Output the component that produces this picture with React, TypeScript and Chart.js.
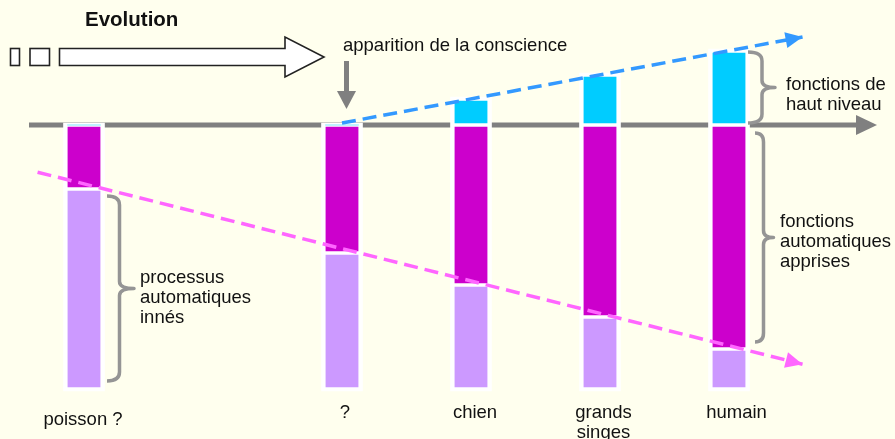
import { useEffect, useRef } from "react";
import { Chart, registerables } from "chart.js";

Chart.register(...registerables);

// ---------- data ----------
const categories = ["poisson ?", "?", "chien", "grands\nsinges", "humain"];
const positions = [0, 2, 3, 4, 5];
const highLevel = [0, 0, 3.25, 6.25, 9.25]; // fonctions de haut niveau
const learned = [8, 16, 20, 24, 28]; // fonctions automatiques apprises
const innate = [25, 17, 13, 9, 5]; // processus automatiques innés
const consciousTrendX = [2, 5.57];
const consciousTrendY = [0.25, 11];
const automaticTrendX = [-0.36, 5.57];
const automaticTrendY = [-5.9, -29.9];

// ---------- styles ----------
const BG = "#FFFFEE";
const CYAN = "#00CCFF";
const MAGENTA = "#CC00CC";
const LAVENDER = "#CC99FF";
const GRAY = "#808080";
const BRACE = "#959595";
const BLUE = "#3399FF";
const PINK = "#FF66FF";
const TEXT = "#111111";
const FONT = '"Liberation Sans", Arial, Helvetica, sans-serif';

function brace(ctx: CanvasRenderingContext2D, xL: number, xs: number, xt: number, y0: number, y1: number) {
  const r = 9;
  const rm = 7;
  const ym = (y0 + y1) / 2;
  ctx.beginPath();
  ctx.moveTo(xL, y0);
  ctx.quadraticCurveTo(xs, y0, xs, y0 + r);
  ctx.lineTo(xs, ym - rm);
  ctx.quadraticCurveTo(xs, ym, xt, ym);
  ctx.quadraticCurveTo(xs, ym, xs, ym + rm);
  ctx.lineTo(xs, y1 - r);
  ctx.quadraticCurveTo(xs, y1, xL, y1);
  ctx.stroke();
}

function arrowHead(ctx: CanvasRenderingContext2D, x1: number, y1: number, x2: number, y2: number, len: number, half: number, color: string) {
  const a = Math.atan2(y2 - y1, x2 - x1);
  const bx = x2 - len * Math.cos(a);
  const by = y2 - len * Math.sin(a);
  const nx = -Math.sin(a);
  const ny = Math.cos(a);
  ctx.fillStyle = color;
  ctx.beginPath();
  ctx.moveTo(x2, y2);
  ctx.lineTo(bx + nx * half, by + ny * half);
  ctx.lineTo(bx - nx * half, by - ny * half);
  ctx.closePath();
  ctx.fill();
}

const decor = {
  id: "decor",
  beforeDatasetsDraw(chart: any) {
    const ctx: CanvasRenderingContext2D = chart.ctx;
    const y = chart.scales.y;
    const y0 = y.getPixelForValue(0);
    ctx.save();
    // main horizontal axis with arrow
    ctx.strokeStyle = GRAY;
    ctx.lineWidth = 5;
    ctx.beginPath();
    ctx.moveTo(29, y0);
    ctx.lineTo(860, y0);
    ctx.stroke();
    ctx.fillStyle = GRAY;
    ctx.beginPath();
    ctx.moveTo(856, y0 - 10);
    ctx.lineTo(877, y0);
    ctx.lineTo(856, y0 + 10);
    ctx.closePath();
    ctx.fill();
    ctx.restore();
  },
  afterDatasetsDraw(chart: any) {
    const ctx: CanvasRenderingContext2D = chart.ctx;
    const x = chart.scales.x;
    const y = chart.scales.y;
    ctx.save();

    // arrow heads of trend lines
    [0, 1].forEach((di) => {
      const pts = chart.getDatasetMeta(di).data;
      const p1 = pts[pts.length - 2];
      const p2 = pts[pts.length - 1];
      arrowHead(ctx, p1.x, p1.y, p2.x, p2.y, 17, 8, di === 0 ? BLUE : PINK);
    });

    // "Evolution" block arrow
    ctx.fillStyle = "#FFFFFF";
    ctx.strokeStyle = "#222222";
    ctx.lineWidth = 1.6;
    ctx.fillRect(10.5, 48.5, 9, 17);
    ctx.strokeRect(10.5, 48.5, 9, 17);
    ctx.fillRect(30, 48.5, 19.5, 17);
    ctx.strokeRect(30, 48.5, 19.5, 17);
    ctx.beginPath();
    ctx.moveTo(59.5, 48.5);
    ctx.lineTo(285, 48.5);
    ctx.lineTo(285, 37);
    ctx.lineTo(324, 57);
    ctx.lineTo(285, 77);
    ctx.lineTo(285, 65.5);
    ctx.lineTo(59.5, 65.5);
    ctx.closePath();
    ctx.fill();
    ctx.stroke();

    // gray down arrow (apparition de la conscience)
    ctx.fillStyle = GRAY;
    ctx.fillRect(344, 61, 5, 31);
    ctx.beginPath();
    ctx.moveTo(337, 91);
    ctx.lineTo(356, 91);
    ctx.lineTo(346.5, 109);
    ctx.closePath();
    ctx.fill();

    // braces
    ctx.strokeStyle = BRACE;
    ctx.lineWidth = 3.5;
    ctx.lineJoin = "round";
    const r0 = x.getPixelForValue(positions[0]) + 20.5;
    brace(ctx, r0 + 2.5, r0 + 15, r0 + 29.5,
      y.getPixelForValue(-learned[0]) + 7,
      y.getPixelForValue(-(learned[0] + innate[0])) - 8);
    const r4 = x.getPixelForValue(positions[4]) + 20.5;
    brace(ctx, r4 - 1.5, r4 + 12.5, r4 + 25.5,
      y.getPixelForValue(highLevel[4]) + 1,
      y.getPixelForValue(0) - 2);
    brace(ctx, r4 + 5.5, r4 + 14, r4 + 24,
      y.getPixelForValue(0) + 8,
      y.getPixelForValue(-learned[4]) - 7);

    // texts
    ctx.fillStyle = TEXT;
    ctx.textBaseline = "alphabetic";
    ctx.textAlign = "left";
    ctx.font = `bold 20.5px ${FONT}`;
    ctx.fillText("Evolution", 85, 26);
    ctx.font = `18.5px ${FONT}`;
    ctx.fillText("apparition de la conscience", 343, 51);
    ctx.fillText("fonctions de", 786, 90);
    ctx.fillText("haut niveau", 786, 110);
    ctx.fillText("fonctions", 780, 226.5);
    ctx.fillText("automatiques", 780, 246.5);
    ctx.fillText("apprises", 780, 266.5);
    ctx.fillText("processus", 140, 283);
    ctx.fillText("automatiques", 140, 303);
    ctx.fillText("innés", 140, 323);

    // category labels
    const dx = [-1, 3, 4, 3.5, 7.5];
    const dy = [7, 0, 0, 0, 0];
    ctx.textAlign = "center";
    categories.forEach((c, i) => {
      const cx = x.getPixelForValue(positions[i]) + dx[i];
      c.split("\n").forEach((line, j) => {
        ctx.fillText(line, cx, 418 + dy[i] + j * 20);
      });
    });
    ctx.restore();
  },
};

export default function App() {
  const ref = useRef<HTMLCanvasElement>(null);

  useEffect(() => {
    document.body.style.margin = "0";
    document.body.style.background = BG;
    const yRange = { min: -39.25, max: 15.625 };
    const chart = new Chart(ref.current as HTMLCanvasElement, {
      type: "bar",
      data: {
        datasets: [
          {
            type: "line",
            label: "conscience",
            data: consciousTrendX.map((v, i) => ({ x: v, y: consciousTrendY[i] })),
            yAxisID: "y2",
            borderColor: BLUE,
            borderWidth: 3.5,
            borderDash: [14, 7],
            pointRadius: 0,
            fill: false,
            tension: 0,
            order: 0,
          },
          {
            type: "line",
            label: "automatismes",
            data: automaticTrendX.map((v, i) => ({ x: v, y: automaticTrendY[i] })),
            yAxisID: "y2",
            borderColor: PINK,
            borderWidth: 3.5,
            borderDash: [14, 7],
            pointRadius: 0,
            fill: false,
            tension: 0,
            order: 0,
          },
          {
            type: "bar",
            label: "fonctions de haut niveau",
            data: positions.map((p, i) => ({ x: p, y: highLevel[i] })),
            yAxisID: "y",
            backgroundColor: CYAN,
            borderColor: "#FFFFFF",
            borderWidth: { top: 2, bottom: 2, left: 0, right: 0 },
            borderSkipped: false,
            barThickness: 33,
            order: 1,
          },
          {
            type: "bar",
            label: "fonctions automatiques apprises",
            data: positions.map((p, i) => ({ x: p, y: -learned[i] })),
            yAxisID: "y",
            backgroundColor: MAGENTA,
            borderColor: "#FFFFFF",
            borderWidth: { top: 2, bottom: 2, left: 0, right: 0 },
            borderSkipped: false,
            barThickness: 33,
            order: 1,
          },
          {
            type: "bar",
            label: "processus automatiques innés",
            data: positions.map((p, i) => ({ x: p, y: -innate[i] })),
            yAxisID: "y",
            backgroundColor: LAVENDER,
            borderColor: "#FFFFFF",
            borderWidth: { top: 2, bottom: 2, left: 0, right: 0 },
            borderSkipped: false,
            barThickness: 33,
            order: 1,
          },
          {
            type: "bar",
            label: "cadre",
            data: positions.map((p, i) => ({
              x: p,
              y: [highLevel[i] + 0.25, -(learned[i] + innate[i]) - 0.25],
            })),
            yAxisID: "yW",
            backgroundColor: "#FFFFFF",
            borderWidth: 0,
            barThickness: 41,
            order: 2,
          },
        ] as any,
      },
      options: {
        animation: false,
        responsive: false,
        devicePixelRatio: 1,
        events: [],
        layout: { padding: 0 },
        plugins: { legend: { display: false }, tooltip: { enabled: false }, title: { display: false } },
        scales: {
          x: {
            type: "linear",
            min: -84 / 129,
            max: (895 - 84) / 129,
            stacked: true,
            offset: false,
            bounds: "data",
            display: false,
            grid: { offset: false },
          },
          y: { type: "linear", ...yRange, stacked: true, bounds: "data", display: false },
          y2: { type: "linear", ...yRange, stacked: false, bounds: "data", display: false },
          yW: { type: "linear", ...yRange, stacked: false, bounds: "data", display: false },
        } as any,
      },
      plugins: [decor],
    });
    return () => chart.destroy();
  }, []);

  return (
    <div style={{ position: "fixed", left: 0, top: 0, width: 895, height: 439, background: BG }}>
      <canvas ref={ref} width={895} height={439} style={{ display: "block", width: 895, height: 439 }} />
    </div>
  );
}
